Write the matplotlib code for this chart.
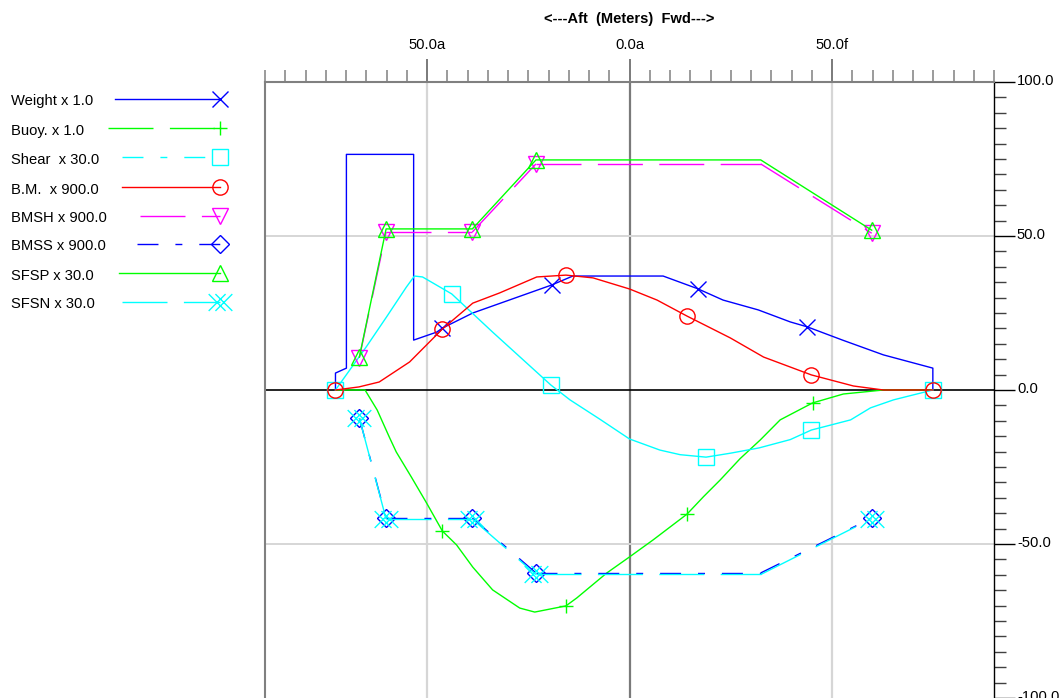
import numpy as np
import matplotlib.pyplot as plt
import matplotlib.transforms as mtransforms
from matplotlib.collections import LineCollection
from matplotlib.path import Path

plt.rcParams['font.family'] = ['Liberation Sans', 'DejaVu Sans']
plt.rcParams['lines.scale_dashes'] = False

# stations along the hull, metres (aft negative, fwd positive)
weight_x = [-72.6, -72.6, -69.9, -69.9, -53.3, -53.3, -47.6, -46.2, -38.7, -19.2, -14.0, 8.3,
            16.8, 23.1, 31.8, 39.7, 43.9, 52.6, 62.7, 74.9, 74.9]
weight_y = [0.0, 5.5, 7.1, 76.5, 76.5, 16.2, 18.8, 20.1, 25.0, 34.1, 37.0, 37.0,
            32.9, 29.2, 26.0, 22.1, 20.5, 16.2, 11.4, 7.1, 0.0]
weight_marks = [7, 9, 12, 16]

buoy_x = [-72.6, -65.3, -62.3, -59.3, -57.6, -53.8, -50.1, -46.2, -42.7, -38.7, -33.8, -27.1,
          -23.4, -15.7, -13.0, -5.6, 0.0, 5.8, 14.2, 18.3, 22.4, 27.3, 32.3, 37.2, 45.2, 52.8,
          62.7, 74.9]
buoy_y = [0.0, 0.0, -6.5, -15.3, -20.1, -28.4, -36.7, -45.8, -50.3, -57.5, -64.9, -70.8,
          -72.1, -70.1, -67.5, -59.4, -54.2, -48.7, -40.3, -34.6, -29.2, -22.3, -16.2, -9.7,
          -4.2, -1.3, 0.0, 0.0]
buoy_marks = [7, 13, 18, 24]

shear_x = [-72.6, -65.0, -60.0, -55.1, -53.1, -51.1, -43.9, -33.8, -19.4, -14.7, -7.3, 0.0,
           7.5, 12.5, 18.9, 25.0, 32.0, 39.7, 44.9, 54.6, 59.5, 65.2, 74.9]
shear_y = [0.0, 14.0, 23.7, 33.4, 37.0, 36.7, 31.2, 18.8, 1.6, -3.2, -9.5, -15.9,
           -19.5, -21.0, -21.8, -20.5, -18.8, -16.1, -13.0, -9.7, -5.8, -3.2, 0.0]
shear_marks = [0, 6, 8, 14, 18, 22]

bm_x = [-72.6, -66.8, -61.8, -54.3, -46.2, -38.7, -32.1, -22.9, -15.7, -9.0, 0.0, 6.8,
        14.2, 24.9, 33.1, 44.9, 55.3, 62.7, 74.9]
bm_y = [0.0, 1.0, 2.6, 9.1, 19.8, 28.2, 31.5, 36.7, 37.3, 36.4, 32.8, 29.2,
        24.0, 16.9, 10.7, 4.9, 1.3, 0.0, 0.0]
bm_marks = [0, 4, 8, 12, 15, 18]

# hogging / sagging limits share the same stations
lim_x = [-66.7, -60.1, -38.8, -23.1, 32.4, 59.8]
bmsh_y = [10.5, 51.3, 51.3, 73.4, 73.4, 50.9]
bmss_y = [-9.1, -41.6, -41.6, -59.4, -59.4, -41.6]
sfsp_y = [10.7, 52.3, 52.3, 74.7, 74.7, 51.9]
sfsn_y = [-9.1, -41.9, -41.9, -59.9, -59.9, -41.8]
lim_marks = [0, 1, 2, 3, 5]

labels = ['Weight x 1.0', 'Buoy. x 1.0', 'Shear  x 30.0', 'B.M.  x 900.0',
          'BMSH x 900.0', 'BMSS x 900.0', 'SFSP x 30.0', 'SFSN x 30.0']

x_major = [-50, 0, 50]
x_major_labels = ['50.0a', '0.0a', '50.0f']
y_major = [-100, -50, 0, 50, 100]

# dash patterns in points (one pattern restart per segment)
DASH_LONG = (32.4, 11.8)
DASH_DOT = (15.1, 12.2, 5.0, 12.2)

# two overlapping crosses
double_x = Path([(-0.7, -0.5), (0.3, 0.5), (-0.7, 0.5), (0.3, -0.5),
                 (-0.3, -0.5), (0.7, 0.5), (-0.3, 0.5), (0.7, -0.5)],
                [Path.MOVETO, Path.LINETO] * 4)

FS = 10.6
W, H = 1061, 698
fig = plt.figure(figsize=(W / 100, H / 100), dpi=100)

# legend panel in pixel coordinates
lax = fig.add_axes([0, 0, 1, 1])
lax.set_xlim(0, W)
lax.set_ylim(H, 0)
lax.axis('off')

ax = fig.add_axes([265 / W, 0, (994 - 265) / W, (H - 82) / H])
ax.set_xlim(-90, 90)
ax.set_ylim(-100, 100)
ax.patch.set_alpha(0)

for v in x_major:
    ax.axvline(v, color='#7a7a7a' if v == 0 else '#d6d6d6', lw=1.6, zorder=0)
for v in y_major[1:-1]:
    if v == 0:
        ax.axhline(v, color='black', lw=1.2, zorder=0.5)
    else:
        ax.axhline(v, color='#d6d6d6', lw=1.4, zorder=0)


def draw_series(x, y, color, marker, ms, marks, dashes=None, z=2, mew=1.0):
    x = np.asarray(x, dtype=float)
    y = np.asarray(y, dtype=float)
    if dashes is None:
        ax.plot(x, y, color=color, lw=1.0, zorder=z)
    else:
        p = np.column_stack([x, y])
        segs = np.stack([p[:-1], p[1:]], axis=1)
        ax.add_collection(LineCollection(segs, colors=color, linewidths=1.0,
                                         linestyles=[(0, dashes)], zorder=z))
    ax.plot(x[marks], y[marks], ls='none', marker=marker, ms=ms, mec=color,
            mfc='none', mew=mew, zorder=z)


draw_series(weight_x, weight_y, '#0000ff', 'x', 11, weight_marks)
draw_series(buoy_x, buoy_y, '#00ff00', '+', 10, buoy_marks)
draw_series(shear_x, shear_y, '#00ffff', 's', 11, shear_marks)
draw_series(bm_x, bm_y, '#ff0000', 'o', 11, bm_marks)
draw_series(lim_x, bmsh_y, '#ff00ff', 'v', 11, lim_marks, DASH_LONG)
draw_series(lim_x, bmss_y, '#0000ff', 'D', 9.5, lim_marks, DASH_DOT)
draw_series(lim_x, sfsp_y, '#00ff00', '^', 12, lim_marks)
draw_series(lim_x, sfsn_y, '#00ffff', double_x, 17, lim_marks, DASH_LONG)

# axes frame
ax.spines['bottom'].set_visible(False)
for s in ('left', 'top'):
    ax.spines[s].set_color('#808080')
    ax.spines[s].set_linewidth(1.5)
ax.spines['right'].set_color('black')
ax.spines['right'].set_linewidth(1.0)

ax.xaxis.tick_top()
ax.set_xticks(x_major, labels=x_major_labels)
ax.set_xticks(np.arange(-90, 91, 5), minor=True)
ax.tick_params(axis='x', which='major', length=16.5, width=1.3, color='#707070',
               pad=5, labelsize=FS)
ax.tick_params(axis='x', which='minor', length=8.6, width=1.1, color='#808080')

ax.yaxis.tick_right()
ax.set_yticks(y_major, labels=[f'{v:.1f}' for v in y_major])
ax.set_yticks(np.arange(-100, 101, 5), minor=True)
ax.tick_params(axis='y', which='major', length=15, width=1.0, color='black',
               pad=1.5, labelsize=FS)
ax.tick_params(axis='y', which='minor', length=8.6, width=1.0, color='#404040')

# right-hand labels sit a little above their ticks
lift = mtransforms.ScaledTranslation(0, 2.5 / 100, fig.dpi_scale_trans)
for t in ax.yaxis.get_major_ticks():
    t.label2.set_transform(t.label2.get_transform() + lift)

fig.text(629.5 / W, 1 - 19 / H, '<---Aft  (Meters)  Fwd--->', ha='center', va='center',
         fontsize=10.5, fontweight='bold')

# legend
leg_style = [
    ('#0000ff', 'x', 11, None, 115),
    ('#00ff00', '+', 10, DASH_LONG, 108),
    ('#00ffff', 's', 11, DASH_DOT, 122),
    ('#ff0000', 'o', 11, None, 122),
    ('#ff00ff', 'v', 11, DASH_LONG, 140),
    ('#0000ff', 'D', 9.5, DASH_DOT, 137),
    ('#00ff00', '^', 12, None, 119),
    ('#00ffff', double_x, 17, DASH_LONG, 122),
]
row_y = [99, 128, 157, 187, 216, 244, 273, 302]
for label, (color, marker, ms, dashes, x0), yy in zip(labels, leg_style, row_y):
    line, = lax.plot([x0, 220], [yy, yy], color=color, lw=1.0)
    if dashes is not None:
        line.set_dashes(dashes)
    lax.plot([220], [yy], ls='none', marker=marker, ms=ms, mec=color, mfc='none', mew=1.0)
    lax.text(11, yy + 2.5, label, ha='left', va='center', fontsize=FS)

fig.savefig('out.png', dpi=100)
